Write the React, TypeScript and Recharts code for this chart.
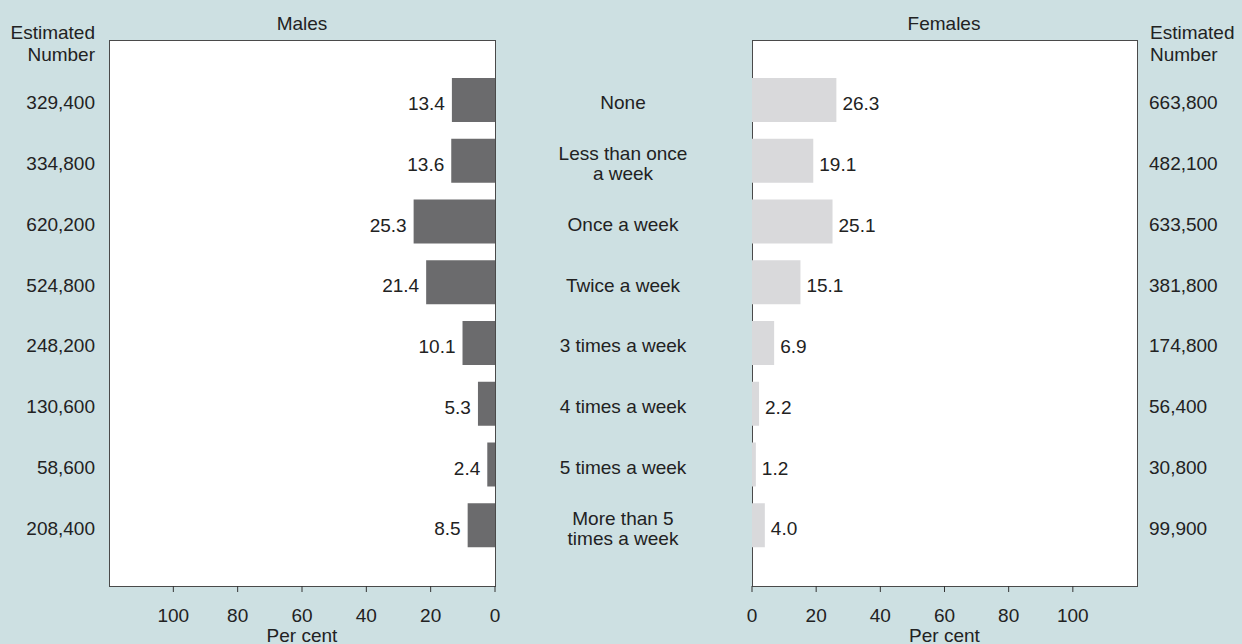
import { BarChart, Bar, XAxis, YAxis, LabelList } from 'recharts';

const categories = [
  'None',
  'Less than once\na week',
  'Once a week',
  'Twice a week',
  '3 times a week',
  '4 times a week',
  '5 times a week',
  'More than 5\ntimes a week',
];
const malePct = [13.4, 13.6, 25.3, 21.4, 10.1, 5.3, 2.4, 8.5];
const femalePct = [26.3, 19.1, 25.1, 15.1, 6.9, 2.2, 1.2, 4.0];
const maleCounts = ['329,400', '334,800', '620,200', '524,800', '248,200', '130,600', '58,600', '208,400'];
const femaleCounts = ['663,800', '482,100', '633,500', '381,800', '174,800', '56,400', '30,800', '99,900'];
const pctTicks = [0, 20, 40, 60, 80, 100];

const data = categories.map((c, i) => ({
  category: c,
  males: malePct[i],
  females: femalePct[i],
}));

const FONT = '"Liberation Sans", Arial, Helvetica, sans-serif';
const TEXT = '#222';
const BG = '#cde0e2';

const idx = (v: string) => categories.indexOf(v);

const MaleCountTick = (props: any) => {
  const { x, y, payload } = props;
  return (
    <text x={x} y={y + 9} textAnchor="end" fontSize={19} fill={TEXT} fontFamily={FONT}>
      {maleCounts[idx(payload.value)]}
    </text>
  );
};

const FemaleCountTick = (props: any) => {
  const { x, y, payload } = props;
  return (
    <text x={x} y={y + 9} textAnchor="start" fontSize={19} fill={TEXT} fontFamily={FONT}>
      {femaleCounts[idx(payload.value)]}
    </text>
  );
};

const CategoryTick = (props: any) => {
  const { x, y, payload } = props;
  const lines = String(payload.value).split('\n');
  const first = y + 9 - (lines.length - 1) * 10;
  return (
    <text x={x + 128} y={first} textAnchor="middle" fontSize={19} fill={TEXT} fontFamily={FONT}>
      {lines.map((l, i) => (
        <tspan key={i} x={x + 128} y={first + i * 20}>
          {l}
        </tspan>
      ))}
    </text>
  );
};

const maleLabel = (props: any) => {
  const vb = props.viewBox || props;
  const left = Math.min(vb.x, vb.x + vb.width);
  const cy = vb.y + vb.height / 2;
  return (
    <text x={left - 7} y={cy + 10} textAnchor="end" fontSize={19} fill={TEXT} fontFamily={FONT}>
      {Number(props.value).toFixed(1)}
    </text>
  );
};

const femaleLabel = (props: any) => {
  const vb = props.viewBox || props;
  const right = Math.max(vb.x, vb.x + vb.width);
  const cy = vb.y + vb.height / 2;
  return (
    <text x={right + 6} y={cy + 10} textAnchor="start" fontSize={19} fill={TEXT} fontFamily={FONT}>
      {Number(props.value).toFixed(1)}
    </text>
  );
};

const panel = (left: number, width: number) => ({
  position: 'absolute' as const,
  left,
  top: 40,
  width,
  height: 547,
  boxSizing: 'border-box' as const,
  border: '1px solid #4a4a4a',
  background: '#fff',
});

const tickStyle = { fontSize: 19, fill: TEXT, fontFamily: FONT };
const axisLabel = { value: 'Per cent', position: 'insideBottom' as const, offset: 2, fontSize: 19, fill: TEXT, fontFamily: FONT };

export default function App() {
  return (
    <div
      style={{
        position: 'absolute',
        left: 0,
        top: 0,
        width: 1242,
        height: 644,
        background: BG,
        fontFamily: FONT,
        overflow: 'hidden',
      }}
    >
      <div style={panel(109, 387)} />
      <div style={panel(752, 386)} />

      <div style={{ position: 'absolute', left: 0, top: 0 }}>
        <BarChart
          width={752}
          height={644}
          data={data}
          layout="vertical"
          margin={{ top: 40, right: 0, bottom: 0, left: 0 }}
          barSize={44}
        >
          <XAxis
            type="number"
            domain={[0, 120]}
            ticks={pctTicks}
            interval={0}
            reversed
            height={58}
            axisLine={false}
            tickLine={{ stroke: '#333' }}
            tickSize={6}
            tickMargin={17}
            tick={tickStyle}
            label={axisLabel}
          />
          <YAxis
            yAxisId="l"
            type="category"
            dataKey="category"
            width={109}
            padding={{ top: 30, bottom: 30 }}
            axisLine={false}
            tickLine={false}
            tickSize={0}
            tickMargin={14}
            tick={<MaleCountTick />}
            interval={0}
          />
          <YAxis
            yAxisId="c"
            orientation="right"
            type="category"
            dataKey="category"
            width={257}
            padding={{ top: 30, bottom: 30 }}
            axisLine={false}
            tickLine={false}
            tickSize={0}
            tickMargin={0}
            tick={<CategoryTick />}
            interval={0}
          />
          <Bar dataKey="males" yAxisId="l" fill="#6b6b6d" isAnimationActive={false}>
            <LabelList dataKey="males" content={maleLabel} />
          </Bar>
        </BarChart>
      </div>

      <div style={{ position: 'absolute', left: 737, top: 0 }}>
        <BarChart
          width={505}
          height={644}
          data={data}
          layout="vertical"
          margin={{ top: 40, right: 0, bottom: 0, left: 15 }}
          barSize={44}
        >
          <XAxis
            type="number"
            domain={[0, 120]}
            ticks={pctTicks}
            interval={0}
            height={58}
            axisLine={false}
            tickLine={{ stroke: '#333' }}
            tickSize={6}
            tickMargin={17}
            tick={tickStyle}
            label={axisLabel}
          />
          <YAxis
            yAxisId="r"
            orientation="right"
            type="category"
            dataKey="category"
            width={105}
            padding={{ top: 30, bottom: 30 }}
            axisLine={false}
            tickLine={false}
            tickSize={0}
            tickMargin={12}
            tick={<FemaleCountTick />}
            interval={0}
          />
          <Bar dataKey="females" yAxisId="r" fill="#d9d9db" isAnimationActive={false}>
            <LabelList dataKey="females" content={femaleLabel} />
          </Bar>
        </BarChart>
      </div>

      <svg
        width={1242}
        height={644}
        style={{ position: 'absolute', left: 0, top: 0, pointerEvents: 'none' }}
        fontFamily={FONT}
        fontSize={19}
        fill={TEXT}
      >
        <text x={302} y={30} textAnchor="middle">Males</text>
        <text x={944} y={30} textAnchor="middle">Females</text>
        <text x={95} y={39} textAnchor="end">Estimated</text>
        <text x={95} y={61} textAnchor="end">Number</text>
        <text x={1150} y={39} textAnchor="start">Estimated</text>
        <text x={1150} y={61} textAnchor="start">Number</text>
      </svg>
    </div>
  );
}
